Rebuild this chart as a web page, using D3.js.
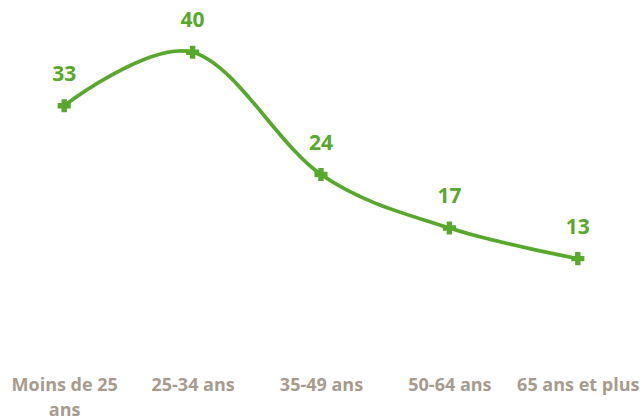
<!DOCTYPE html>
<html>
<head>
<meta charset="utf-8">
<script src="https://cdn.jsdelivr.net/npm/d3@7"></script>
<style>
  body { margin: 0; background: #fff; }
  svg { display: block; }
</style>
</head>
<body>
<div id="chart"></div>
<script>
const categories = ["Moins de 25 ans", "25-34 ans", "35-49 ans", "50-64 ans", "65 ans et plus"]
const values = [33, 40, 24, 17, 13]

const w = 641
const h = 420
const green = "#58a82d"
const grey = "#a89b8e"

const svg = d3.select('#chart').append('svg')
    .attr('width', w)
    .attr('height', h)

// scales
const xScale = d3.scalePoint()
    .domain(categories)
    .range([0, 642])
    .padding(0.5)

const yScale = d3.scaleLinear()
    .domain([0, 45])
    .range([358, 14])

// x axis labels, no line
const xAxis = d3.axisBottom(xScale).tickSize(0).tickPadding(0)
const gx = svg.append('g')
    .attr('transform', 'translate(0,391)')
    .call(xAxis)
gx.select('.domain').remove()
gx.selectAll('text')
    .attr('fill', grey)
    .attr('y', 0)
    .attr('dy', null)
    .style('font-family', '"Open Sans", sans-serif')
    .style('font-weight', 'bold')
    .style('font-size', '18px')
    .each(function () {
        // wrap long labels
        const t = d3.select(this)
        const words = t.text().split(' ')
        t.text(null)
        let line = []
        let tspan = t.append('tspan').attr('x', 0).attr('dy', 0)
        for (const word of words) {
            line.push(word)
            tspan.text(line.join(' '))
            if (tspan.node().getComputedTextLength() > 126 && line.length > 1) {
                line.pop()
                tspan.text(line.join(' '))
                line = [word]
                tspan = t.append('tspan').attr('x', 0).attr('dy', 25).text(word)
            }
        }
    })

// the smooth line
const line = d3.line()
    .x((d, i) => xScale(categories[i]))
    .y(d => yScale(d))
    .curve(d3.curveCardinal.tension(0))

svg.append('path')
    .datum(values)
    .attr('d', line)
    .attr('fill', 'none')
    .attr('stroke', green)
    .attr('stroke-width', 3.75)

// plus markers
const cross = d3.symbol().type(d3.symbolCross).size(75)
svg.selectAll('.marker')
    .data(values)
    .enter()
    .append('path')
    .attr('class', 'marker')
    .attr('d', cross)
    .attr('transform', (d, i) => 'translate(' + xScale(categories[i]) + ',' + yScale(d) + ')')
    .attr('fill', green)
    .attr('stroke', green)
    .attr('stroke-width', 1.5)

// value labels
svg.selectAll('.val')
    .data(values)
    .enter()
    .append('text')
    .attr('class', 'val')
    .attr('x', (d, i) => xScale(categories[i]))
    .attr('y', d => yScale(d) - 25)
    .attr('text-anchor', 'middle')
    .attr('fill', green)
    .style('font-family', '"Open Sans", sans-serif')
    .style('font-weight', 'bold')
    .style('font-size', '21px')
    .text(d => d)
</script>
</body>
</html>
